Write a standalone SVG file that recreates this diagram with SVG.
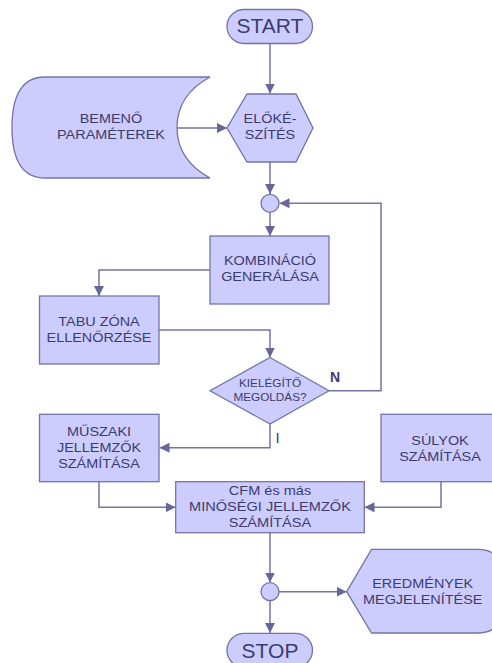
<svg xmlns="http://www.w3.org/2000/svg" width="492" height="663" viewBox="0 0 492 663">
<defs>
<style>
.n{fill:#ccccff;stroke:#7474a4;stroke-width:1.3}
.c{fill:none;stroke:#7474a4;stroke-width:1.5}
text{font-family:"Liberation Sans",Arial,sans-serif;fill:#3c3c6c;text-anchor:middle;font-size:13px}
.big{font-size:21px}
.sm{font-size:11px}
.lbl{font-size:14px;font-weight:bold;text-anchor:start}
</style>
<marker id="a" viewBox="0 0 10 10" refX="10" refY="5" markerWidth="10" markerHeight="10" markerUnits="userSpaceOnUse" orient="auto"><path d="M0,0 L10,5 L0,10 Z" fill="#66669a"/></marker>
</defs>
<rect width="492" height="663" fill="#ffffff"/>
<g id="connectors">
<path class="c" d="M270,43.5 V93.5" marker-end="url(#a)"/>
<path class="c" d="M177,128 H227" marker-end="url(#a)"/>
<path class="c" d="M270,162 V194" marker-end="url(#a)"/>
<path class="c" d="M270,212.5 V236" marker-end="url(#a)"/>
<path class="c" d="M210,270 H99 V296" marker-end="url(#a)"/>
<path class="c" d="M159,330 H270 V357.5" marker-end="url(#a)"/>
<path class="c" d="M329,390.7 H381 V203.3 H279.5" marker-end="url(#a)"/>
<path class="c" d="M270,424 V447.7 H159.5" marker-end="url(#a)"/>
<path class="c" d="M99,481.7 V507.3 H175.5" marker-end="url(#a)"/>
<path class="c" d="M441,481.7 V507.3 H364.5" marker-end="url(#a)"/>
<path class="c" d="M270,532.7 V582.5" marker-end="url(#a)"/>
<path class="c" d="M279,591.7 H346.5" marker-end="url(#a)"/>
<path class="c" d="M270,600.7 V633" marker-end="url(#a)"/>
<text class="lbl" x="330" y="382">N</text>
<text class="lbl" x="275.5" y="443" style="font-weight:normal;font-size:15px">I</text>
</g>
<g id="start">
<rect class="n" x="227" y="9.5" width="85.5" height="34" rx="17"/>
<text class="big" x="270" y="33">START</text>
</g>
<g id="input">
<path class="n" d="M210,77 H45 Q12,77 12,127.5 Q12,178 45,178 H210 Q177,160 177,127.5 Q177,95 210,77 Z"/>
<g transform="translate(111,0) scale(1.11,1)"><text x="0" y="123">BEMENŐ</text><text x="0" y="139">PARAMÉTEREK</text></g>
</g>
<g id="prep">
<path class="n" d="M247,94 H296 L313,128 L296,162 H247 L227,128 Z"/>
<g transform="translate(270,0) scale(1.11,1)"><text x="0" y="123">ELŐKÉ-</text><text x="0" y="139">SZÍTÉS</text></g>
</g>
<g id="join1">
<circle class="n" cx="270" cy="203.3" r="9"/>
</g>
<g id="komb">
<rect class="n" x="210" y="236" width="119" height="68"/>
<g transform="translate(270,0) scale(1.11,1)"><text x="0" y="265">KOMBINÁCIÓ</text><text x="0" y="281">GENERÁLÁSA</text></g>
</g>
<g id="tabu">
<rect class="n" x="39.5" y="296" width="119.5" height="68"/>
<g transform="translate(99,0) scale(1.11,1)"><text x="0" y="326">TABU ZÓNA</text><text x="0" y="342">ELLENŐRZÉSE</text></g>
</g>
<g id="decision">
<path class="n" d="M270,357.5 L329,390.7 L270,424 L210,390.7 Z"/>
<g transform="translate(270,0) scale(1.07,1)"><text class="sm" x="0" y="387">KIELÉGÍTŐ</text><text class="sm" x="0" y="401">MEGOLDÁS?</text></g>
</g>
<g id="muszaki">
<rect class="n" x="39.5" y="414.3" width="119.5" height="67.4"/>
<g transform="translate(99,0) scale(1.11,1)"><text x="0" y="436">MŰSZAKI</text><text x="0" y="452">JELLEMZŐK</text><text x="0" y="468">SZÁMÍTÁSA</text></g>
</g>
<g id="sulyok">
<rect class="n" x="381" y="414.3" width="120" height="67.4"/>
<g transform="translate(440,0) scale(1.11,1)"><text x="0" y="445">SÚLYOK</text><text x="0" y="461">SZÁMÍTÁSA</text></g>
</g>
<g id="cfm">
<rect class="n" x="175.7" y="481.7" width="188.6" height="51"/>
<g transform="translate(270,0) scale(1.12,1)"><text x="0" y="495">CFM és más</text><text x="0" y="511">MINŐSÉGI JELLEMZŐK</text><text x="0" y="527">SZÁMÍTÁSA</text></g>
</g>
<g id="join2">
<circle class="n" cx="270" cy="591.7" r="9"/>
</g>
<g id="display">
<path class="n" d="M346.7,591.7 L371.5,549.3 H478 Q500,549.3 500,571 V612 Q500,633 478,633 H371.5 Z"/>
<g transform="translate(422.7,0) scale(1.11,1)"><text x="0" y="588">EREDMÉNYEK</text><text x="0" y="604">MEGJELENÍTÉSE</text></g>
</g>
<g id="stop">
<rect class="n" x="227" y="633.3" width="85.5" height="34" rx="17"/>
<text class="big" x="270" y="658">STOP</text>
</g>
</svg>
